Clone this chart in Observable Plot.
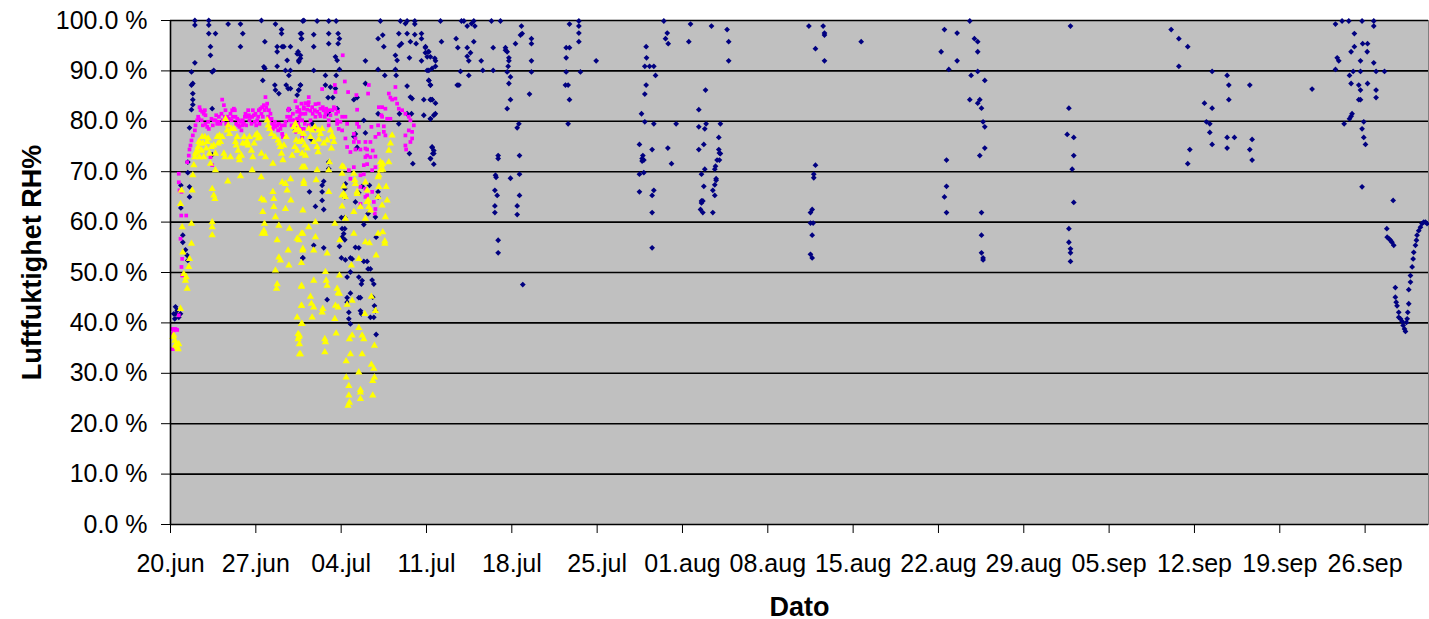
<!DOCTYPE html>
<html><head><meta charset="utf-8">
<script src="https://cdn.jsdelivr.net/npm/d3@7"></script>
<script src="https://cdn.jsdelivr.net/npm/@observablehq/plot@0.6"></script>
<style>body{margin:0;background:#fff;} svg{display:block}</style>
</head><body><div id="chart"></div>
<script>
// Day offsets from 20 June, relative humidity in %
const startYear = 2007;
const domainDays = 103.2;
const tickLabels = ["20.jun","27.jun","04.jul","11.jul","18.jul","25.jul","01.aug","08.aug","15.aug","22.aug","29.aug","05.sep","12.sep","19.sep","26.sep"];
const monthIndex = {jun:5, jul:6, aug:7, sep:8};
const yTicks = [0,10,20,30,40,50,60,70,80,90,100];

const navy = [
[2.0,100],[2.0,99.1],[3.14,100],[3.14,99.1],[3.14,97.4],[3.69,97.4],[4.73,99.3],[5.74,99.3],[5.93,97.4],[3.28,94.8],[3.28,93.1],[5.74,94.8],[2.0,91.6],[1.72,89.8],[3.55,90.1],[3.42,89.8],[1.83,87.5],[1.72,87.2],[1.83,85.5],[1.83,84.3],[1.83,83.3],[1.72,82.3],[1.56,78.7],[1.42,71.9],[1.42,69.8],[1.56,67.0],[1.56,65.0],[0.85,67.3],[0.85,62.8],[1.01,57.4],[1.01,56.0],[1.23,54.5],[1.37,53.4],[1.42,52.4],[0.41,43.2],[0.41,41.8],[0.68,41.1],[0.82,41.8],[0.27,41.8],[0.55,42.5],[0.35,40.8],
[7.46,100],[7.74,95.8],[7.57,88.1],[7.66,90.8],[7.74,90.5],[8.61,99.3],[9.11,98.2],[9.11,97.4],[8.75,94.8],[8.75,93.8],[9.16,94.8],[9.3,94.8],[9.84,94.8],[8.75,90.9],[9.43,90.1],[9.57,92.1],[9.84,90.1],[9.71,89.1],[10.39,93.4],[10.53,91.8],[10.66,92.5],[10.75,97.4],[10.75,96.4],[10.94,100],[8.56,87.2],[8.61,86.2],[8.89,85.5],[9.49,87.2],[9.65,86.5],[9.84,86.5],[10.66,87.2],[10.53,86.2],[9.71,82.3],[3.42,82.5],[3.42,73.4],[10.86,52.9],
[10.85,99.9],[12.03,99.9],[12.98,99.9],[13.59,99.9],[17.22,99.9],[18.86,99.9],[19.27,99.4],[19.41,99.9],[20.04,99.9],[20.04,99.3],[10.66,97.4],[11.75,97.2],[12.98,97.4],[13.75,97.4],[13.86,96.4],[10.74,96.4],[12.98,95.4],[13.75,95.4],[11.75,94.8],[17.03,96.4],[17.41,97.1],[18.73,97.4],[19.41,97.4],[20.04,97.2],[20.59,97.4],[20.59,96.4],[17.5,94.8],[19.68,95.8],[20.15,95.4],[18.95,95.4],[18.78,95.0],[20.91,94.6],[20.91,93.6],[21.19,93.8],[21.32,92.8],[10.47,93.8],[10.66,93.1],[10.52,92.1],[13.53,92.8],[13.67,92.1],[13.86,90.3],[15.99,92.0],[18.45,93.1],[18.59,92.1],[19.6,92.6],[20.59,92.0],[21.05,90.1],[21.46,90.5],[21.68,92.5],[11.75,90.1],[17.03,90.3],[18.45,90.3],[12.71,89.1],[13.59,89.1],[17.58,89.1],[18.51,89.1],[21.19,88.1],[21.32,87.2],[15.99,87.5],[12.71,87.2],[10.66,87.2],[10.52,86.2],[10.39,85.2],[13.53,86.5],[13.12,86.8],[19.41,87.0],[19.68,84.8],[19.82,84.5],[20.78,84.3],[21.32,84.3],[21.46,84.3],[15.04,84.3],[15.31,84.7],[12.93,84.7],[13.31,84.7],[17.03,81.5],[18.78,81.5],[19.41,81.5],[19.77,81.5],[20.78,81.2],[21.32,80.5],[21.73,81.5],[13.67,82.5],[12.85,81.5],[12.98,81.9],[15.86,80.2],[18.73,79.5],[10.25,78.2],[11.62,79.5],[11.56,76.4],[15.99,77.7],[15.04,77.0],[15.17,77.5],[15.31,74.8],[21.46,74.9],[21.32,72.6],[21.6,73.6],[19.6,73.6],[19.88,71.6],[12.98,71.9],[12.98,70.6],[12.57,68.1],[12.44,67.3],[11.4,66.0],[12.44,66.0],[12.44,64.3],[12.57,62.5],[11.89,63.1],[14.35,67.6],[14.3,66.6],[14.3,65.0],[15.17,64.0],[15.45,65.8],[15.72,67.1],[16.32,67.3],[17.03,66.0],[17.03,65.0],[16.21,61.7],[16.81,61.0],[14.3,60.9],[14.02,60.9],[15.86,59.5],[14.08,58.7],[14.3,58.7],[14.21,57.7],[14.08,57.0],[14.3,56.5],[16.87,57.0],[15.17,55.0],[15.45,54.9],[11.75,55.4],[12.57,54.9],[13.86,55.2],[10.85,52.9],[14.02,52.9],[14.35,52.5],[14.76,52.9],[14.9,52.7],[15.86,52.2],[16.13,52.2],[16.4,50.7],[16.21,50.7],[14.76,50.1],[14.49,49.1],[15.45,49.1],[15.72,48.4],[16.54,48.5],[15.66,47.7],[16.68,47.7],[12.85,44.6],[14.49,45.0],[14.76,45.9],[15.45,45.0],[15.58,45.0],[16.59,45.1],[14.49,44.1],[14.63,42.1],[15.58,42.4],[15.66,41.8],[16.73,43.4],[16.81,42.4],[14.63,40.8],[14.76,39.8],[16.4,41.1],[16.68,41.1],[16.87,37.7],
[22.15,99.9],[23.87,99.9],[24.07,99.9],[24.69,99.4],[24.88,99.9],[24.97,98.9],[24.34,98.9],[26.33,99.9],[27.07,99.9],[28.79,98.9],[28.85,97.4],[28.71,97.1],[29.61,96.4],[29.61,95.4],[28.3,95.4],[33.5,99.9],[33.5,98.9],[33.5,97.5],[33.5,95.8],[32.73,99.3],[22.23,95.8],[23.43,96.4],[23.57,94.6],[24.34,94.6],[24.61,93.6],[24.34,92.9],[24.88,95.8],[24.47,92.0],[25.49,92.0],[25.62,90.1],[23.79,89.9],[24.47,89.1],[26.47,94.6],[26.47,90.1],[27.48,94.6],[27.48,94.1],[27.62,93.8],[27.76,92.6],[27.76,92.0],[27.7,90.9],[27.62,89.8],[27.89,88.8],[27.76,87.5],[27.89,84.3],[27.62,82.5],[29.61,92.0],[29.61,89.8],[29.45,85.4],[32.46,94.6],[32.73,94.6],[32.46,92.6],[32.46,89.8],[32.4,87.2],[32.62,87.2],[32.73,84.3],[32.62,79.5],[33.63,89.8],[34.92,92.0],[20.92,94.8],[21.14,93.8],[21.06,92.8],[21.19,90.1],[21.19,88.1],[21.33,87.2],[21.74,92.0],[21.74,90.9],[21.33,84.3],[21.47,84.3],[21.74,83.6],[21.6,81.2],[21.33,80.5],[23.52,87.2],[23.66,87.2],[28.58,79.5],[28.44,78.7],[21.47,74.8],[21.6,74.2],[21.52,73.6],[21.33,72.6],[21.6,71.5],[26.88,73.2],[26.88,72.6],[28.63,73.2],[26.66,69.3],[26.71,68.9],[27.89,68.7],[28.63,69.5],[26.61,66.3],[26.8,65.3],[28.63,65.3],[26.61,63.2],[26.61,61.9],[28.44,63.2],[28.44,61.5],[26.88,56.4],[26.88,53.9],[28.9,47.6],
[40.47,99.9],[40.75,97.5],[40.61,96.4],[40.83,95.4],[42.66,99.3],[42.52,95.8],[44.38,98.9],[45.66,98.2],[45.79,95.8],[45.79,92.0],[39.02,94.8],[39.05,92.6],[38.91,90.9],[39.3,90.9],[39.65,90.9],[39.79,89.1],[39.02,87.2],[38.91,85.4],[38.64,81.5],[38.91,79.9],[39.65,79.5],[41.48,79.5],[43.89,86.2],[43.34,82.3],[43.34,78.9],[43.83,78.5],[43.94,79.5],[45.11,79.5],[44.98,76.8],[44.98,74.4],[45.03,73.7],[45.11,73.6],[44.84,72.3],[45.03,72.3],[44.71,71.1],[44.65,70.5],[43.75,75.4],[43.34,74.4],[43.83,70.5],[43.56,69.5],[43.75,67.1],[44.76,68.6],[44.76,68.3],[44.65,67.4],[44.49,66.3],[44.65,65.3],[43.56,64.2],[43.67,64.2],[43.56,63.8],[43.48,62.5],[43.67,61.9],[44.49,61.9],[38.47,75.4],[38.75,73.2],[38.69,72.6],[38.69,72.1],[38.83,72.3],[39.51,74.4],[40.8,74.7],[41.1,71.6],[38.83,69.8],[38.47,69.5],[38.47,66.0],[39.65,66.3],[39.51,65.3],[39.51,61.9],[39.51,54.9],
[52.37,98.9],[53.54,98.9],[53.65,97.5],[53.65,97.1],[52.91,94.4],[53.65,92.0],[56.66,95.8],[52.91,71.3],[52.77,69.5],[52.77,68.8],[52.64,62.5],[52.5,61.9],[52.5,59.8],[52.72,59.8],[52.64,57.4],[52.5,53.6],[52.64,52.9],[63.49,98.2],[64.53,97.5],[63.22,93.8],[64.53,92.0],[63.85,90.3],[63.66,72.3],[63.66,67.1],[63.49,65.0],[63.66,61.9],
[65.57,99.9],[65.95,96.4],[66.22,95.8],[66.22,93.8],[66.22,89.9],[65.68,89.1],[66.8,88.1],[65.57,84.3],[66.22,83.6],[66.39,84.3],[66.53,82.6],[66.66,79.9],[66.8,78.9],[66.8,74.7],[66.39,73.2],[66.53,61.9],[66.53,57.4],[66.53,53.9],[66.66,52.9],[66.66,52.5],[73.83,98.9],[73.7,82.6],[73.56,77.4],[74.1,76.8],[74.1,73.2],[73.97,70.5],[74.1,63.9],[73.7,58.7],[73.7,56.0],[73.83,54.7],[73.83,53.9],[73.83,52.2],
[82.09,98.2],[82.72,96.4],[83.45,94.8],[82.72,90.9],[85.45,89.9],[86.68,89.1],[86.82,87.2],[88.54,87.2],[86.82,84.3],[84.82,83.6],[85.45,82.6],[84.98,79.9],[85.26,79.5],[85.26,77.8],[85.45,75.4],[86.68,76.8],[87.28,76.8],[86.68,74.7],[88.73,76.4],[88.54,74.4],[88.73,72.3],[83.62,74.4],[83.45,71.6],
[95.57,99.3],[96.11,99.9],[96.66,99.9],[97.75,99.9],[98.71,99.9],[98.71,98.9],[97.12,97.4],[97.8,95.4],[98.2,95.4],[97.12,94.8],[96.85,93.8],[98.17,93.8],[95.71,92.6],[95.84,92.0],[97.62,92.0],[98.71,91.6],[95.57,90.3],[97.02,89.9],[97.62,89.9],[98.9,89.9],[99.59,89.9],[96.72,89.1],[96.85,87.5],[97.48,87.2],[98.2,87.5],[93.65,86.4],[97.62,86.2],[97.48,84.3],[97.62,84.3],[98.9,86.2],[98.9,84.7],[96.93,81.5],[96.85,81.0],[96.72,80.5],[96.28,79.5],[97.89,79.9],[97.75,78.5],[97.89,76.8],[98.03,75.4],[97.75,67.0],[100.3,64.3],[99.78,58.7],[99.81,57.0],[99.95,56.7],[100.08,56.4],[100.2,56.0],[100.35,55.4],[100.48,47.0],[100.48,45.1],[100.55,44.1],[100.62,43.4],[100.76,42.1],[100.76,41.1],[100.9,40.8],[101.04,40.3],[101.12,39.5],[101.23,38.8],[101.31,38.3],[101.39,40.1],[101.45,40.8],[101.5,42.1],[101.58,43.8],[101.58,46.6],[101.72,48.1],[101.72,49.4],[101.86,51.1],[101.94,52.7],[101.99,54.0],[102.13,55.4],[102.21,56.4],[102.26,57.4],[102.4,58.3],[102.54,59.0],[102.67,59.7],[102.81,60.0],[102.95,60.0],[103.08,59.7]
];

const magenta = [
[0.14,38.8],[0.27,38.5],[0.41,38.8],[0.55,38.6],[0.14,37.8],[0.19,34.8],[0.68,41.5],[0.68,69.6],[0.68,67.9],[0.74,66.3],[0.9,66.0],[0.88,61.3],[1.29,61.3],[0.82,56.7],[0.96,52.7],[0.9,51.1],[0.96,49.4],[1.37,71.9],[1.5,73.2],[1.56,74.4],[1.64,75.2],[1.72,76.2],[1.83,77.2],[2.0,78.2],[2.05,79.2],[2.19,80.2],[2.27,80.9],[2.38,82.8],[2.46,82.2],[2.6,81.9],[2.73,81.5],[2.87,81.2],[2.32,80.5],[2.87,79.5],[3.01,78.9],[3.14,78.5],[3.28,72.9],[3.42,71.3],[3.55,80.2],[3.69,80.2],[3.83,79.5],[3.97,80.9],[4.1,79.5],[4.24,84.3],[4.38,83.2],[4.51,82.2],[4.65,80.9],[4.79,80.5],[5.06,82.2],[5.2,82.5],[5.33,80.9],[5.47,80.5],[5.61,80.2],[5.74,79.9],[5.88,79.2],[6.02,79.5],[6.15,81.5],[6.29,80.9],[6.43,81.2],[6.56,80.9],[6.7,80.9],[6.84,81.2],[6.97,81.5],[7.11,80.2],[7.25,82.2],[7.38,82.5],[7.52,82.8],[7.66,83.2],[7.79,84.8],[7.93,83.5],[8.07,82.2],[8.2,81.5],[8.34,79.5],[8.48,79.2],[8.61,78.9],[8.89,79.5],[9.02,78.5],[9.16,77.5],[9.3,76.9],[9.43,79.9],[9.71,82.5],[9.84,80.9],[9.98,80.2],[10.12,79.2],[10.25,78.9],[10.39,81.9],[10.53,82.2],[10.66,80.2],[10.8,76.9],[10.94,82.8],
[2.55,80.2],[2.65,79.2],[2.82,82.2],[3.09,79.9],[3.36,80.5],[3.47,79.2],[3.75,81.2],[3.91,79.9],[4.18,81.5],[4.29,80.2],[4.46,80.9],[4.57,79.5],[4.73,79.2],[4.92,81.5],[5.0,80.2],[5.12,80.9],[5.28,82.2],[5.39,79.5],[5.55,79.2],[5.66,78.9],[5.82,78.2],[5.93,80.2],[6.1,80.9],[6.21,79.2],[6.37,82.2],[6.48,80.2],[6.64,79.5],[6.75,82.2],[6.92,79.9],[7.03,79.2],[7.19,80.9],[7.3,79.5],[7.46,81.5],[7.57,80.9],[7.74,82.2],[7.85,82.8],[8.01,80.9],[8.12,80.2],[8.29,80.5],[8.4,78.5],[8.56,79.9],[8.75,79.2],[8.83,78.2],[9.11,79.2],[9.22,76.9],[9.38,79.2],[9.57,80.9],[9.65,82.2],[9.76,80.2],[9.93,79.2],[10.04,81.5],[10.2,80.2],[10.31,77.9],[10.47,79.5],[10.58,80.9],[10.75,78.5],[10.86,81.5],[11.02,79.5],
[14.13,93.1],[14.3,87.9],[13.48,87.2],[13.53,85.8],[12.44,86.4],[11.34,84.8],[10.25,84.0],[11.07,83.6],[11.34,83.8],[11.62,82.8],[11.89,83.4],[12.16,83.5],[12.3,82.5],[12.57,82.2],[12.85,81.9],[12.98,82.2],[13.26,82.2],[13.53,82.5],[13.75,81.9],[11.21,82.3],[11.48,82.1],[11.07,81.5],[10.66,81.5],[10.39,80.5],[10.8,80.2],[11.48,80.2],[11.89,80.9],[12.3,81.0],[12.71,81.5],[12.98,80.2],[13.67,80.2],[14.08,80.9],[14.35,80.9],[10.52,78.9],[10.93,78.5],[11.34,79.2],[11.75,78.5],[12.98,79.2],[13.67,79.5],[13.8,78.5],[14.08,78.2],[14.49,79.5],[15.31,79.5],[15.45,78.9],[15.04,77.5],[15.17,76.6],[14.35,76.6],[14.49,74.9],[15.04,75.9],[15.45,75.9],[15.99,75.9],[16.4,75.9],[17.09,77.5],[16.81,76.9],[17.5,77.9],[17.63,77.2],[16.48,78.9],[17.03,79.2],[17.5,79.0],[17.36,80.9],[17.77,80.5],[18.04,80.5],[17.63,82.5],[17.36,82.8],[17.09,82.8],[16.21,85.5],[16.27,87.2],[14.57,85.8],[15.25,85.2],[15.31,82.3],[17.91,85.5],[18.04,84.7],[18.18,84.3],[18.45,84.5],[18.59,83.5],[18.73,82.5],[19.0,82.2],[19.27,81.5],[19.55,80.9],[19.68,80.2],[19.96,79.2],[19.27,77.2],[19.55,78.2],[19.82,77.9],[19.27,75.2],[19.33,74.4],[19.82,76.6],[19.68,75.9],[18.45,86.8],[17.3,81.2],[14.76,73.9],[15.17,74.4],[15.58,74.4],[15.99,74.6],[16.13,74.4],[16.59,74.2],[16.81,73.0],[16.13,73.2],[15.99,72.9],[16.4,72.9],[15.86,71.3],[15.04,70.9],[14.63,70.3],[14.76,68.6],[15.58,69.3],[15.86,69.5],[16.54,70.3],[16.81,70.9],[16.13,71.5],[15.58,67.0],[15.99,66.6],[16.54,66.0],[16.13,65.3],[15.58,63.6],[15.99,65.0],[16.68,64.0],[16.76,61.7],[16.81,62.6],
[10.39,82.8],[10.58,82.2],[10.74,83.5],[10.93,82.5],[11.29,83.2],[11.67,81.5],[11.84,82.2],[12.03,81.9],[12.22,81.5],[12.49,82.8],[12.66,80.9],[12.77,82.5],[13.12,81.2],[13.4,82.8],[13.59,81.5],[13.94,79.9]
];

const yellow = [
[0.27,37.5],[0.36,36.5],[0.47,35.8],[0.55,35.2],[0.63,34.8],[0.41,35.5],[0.68,35.8],[0.19,37.2],[0.82,42.8],
[0.82,63.6],[0.9,66.3],[0.96,59.0],[1.01,54.0],[1.09,49.7],[1.23,48.4],[1.37,46.8],[1.29,49.1],[1.5,51.1],[1.56,52.7],[1.72,59.7],[1.72,55.7],[1.78,66.3],[1.83,69.3],[1.91,71.3],[2.0,72.9],[2.11,73.9],[2.27,74.9],[2.46,75.6],[2.6,76.9],
[2.05,73.6],[2.19,74.2],[2.32,75.9],[2.38,72.9],[2.55,74.2],[2.65,75.6],[2.73,72.9],[2.82,76.9],[2.93,74.6],[3.01,75.9],[3.09,76.6],[3.2,73.6],[3.28,71.6],[3.36,74.9],[3.55,75.2],[3.69,73.6],[3.83,76.9],[3.91,75.6],[4.02,77.2],[4.1,75.9],[4.24,76.9],[4.38,73.6],[4.46,72.9],[4.51,80.5],[4.65,78.2],[4.73,79.2],[4.84,77.5],[4.92,72.9],[5.0,78.5],[5.2,78.5],[5.33,75.9],[5.39,75.2],[5.47,76.9],[5.55,74.2],[5.61,72.9],[5.66,72.3],[5.82,73.2],[5.93,75.6],[6.04,76.9],[6.15,75.6],[6.29,75.9],[6.37,75.2],[6.48,76.9],[6.64,74.2],[6.75,72.9],[6.86,75.6],[6.97,77.2],[7.11,77.5],[7.19,76.6],[7.3,76.9],[7.46,73.6],[7.79,72.9],[7.93,80.2],[8.01,79.2],[8.12,78.5],[8.29,77.5],[8.4,71.6],[8.56,76.9],[8.83,76.2],[8.94,75.6],[9.02,74.9],[9.11,73.6],[9.22,72.3],[9.3,75.2],[9.49,76.9],[10.12,78.9],[10.25,78.2],[10.31,76.2],[10.39,74.2],[10.58,75.9],[10.8,73.6],[10.94,70.9],[9.98,73.2],[10.2,74.9],
[3.69,70.3],[4.7,68.1],[5.74,69.1],[6.7,70.3],[7.44,68.9],[3.42,66.6],[3.55,65.3],[3.64,64.6],[3.42,60.0],[3.42,59.0],[3.42,57.4],[7.46,64.6],[7.66,64.3],[7.57,62.0],[7.71,59.7],[7.66,58.3],[7.52,57.7],[7.74,57.7],[8.4,66.0],[8.48,64.6],[8.48,63.0],[8.61,61.0],[8.89,59.3],[8.75,56.4],[8.89,53.0],[9.02,52.4],[8.61,50.4],[8.75,47.7],[8.7,46.8],[9.16,67.9],[9.43,67.6],[9.57,66.3],[9.87,64.3],[9.43,62.6],[9.84,68.5],[9.76,58.7],[9.65,54.4],[9.71,51.4],[10.53,56.4],[10.75,57.7],[10.86,54.7],[10.75,47.4],[10.75,43.4],[10.8,39.8],[10.53,37.2],[10.58,35.8],[10.47,37.8],[10.66,33.8],[10.86,62.3],[10.94,67.6],[10.8,70.9],
[10.25,79.5],[10.47,78.5],[10.93,77.5],[11.34,78.5],[11.62,78.2],[12.16,78.2],[12.44,78.5],[13.26,77.2],[13.31,76.9],[11.02,75.2],[11.21,74.6],[12.03,74.9],[12.11,73.9],[13.2,74.6],[12.16,76.4],[11.07,73.2],[12.03,70.3],[13.04,71.9],[12.98,70.3],[14.08,71.1],[14.21,70.9],[14.08,69.6],[11.02,70.9],[10.93,68.1],[11.95,68.3],[12.98,66.0],[14.08,65.3],[14.21,65.6],[14.35,65.0],[14.08,63.1],[14.21,67.1],[15.04,69.6],[15.12,68.3],[15.17,67.6],[15.31,66.0],[15.31,65.6],[15.58,63.0],[15.99,67.9],[16.13,66.3],[16.13,64.0],[16.27,63.0],[16.4,62.3],[15.99,60.7],[15.04,62.0],[16.21,64.3],[17.03,68.9],[17.22,71.9],[17.3,71.3],[17.41,71.6],[17.22,70.3],[17.09,69.3],[17.41,70.4],[17.91,71.9],[18.04,75.6],[18.18,77.2],[17.91,74.2],[17.69,67.0],[17.09,67.0],[17.03,65.0],[17.36,63.3],[17.77,64.3],[17.63,61.0],[14.35,60.7],[13.48,59.7],[11.89,60.0],[11.34,59.0],[10.39,56.7],[10.85,57.7],[11.89,57.0],[10.85,54.4],[11.75,54.4],[12.85,53.8],[10.74,51.9],[13.89,56.4],[15.04,57.7],[15.99,56.0],[16.32,55.8],[17.03,57.7],[17.41,58.0],[17.58,56.2],[17.58,55.7],[16.87,53.4],[15.45,52.7],[14.84,51.4],[12.71,50.1],[13.86,49.4],[11.75,48.4],[10.74,47.2],[12.77,48.4],[12.85,47.4],[13.67,46.8],[13.75,45.9],[13.86,45.8],[11.48,45.2],[10.74,43.4],[11.56,43.8],[11.75,43.1],[12.49,42.8],[12.44,42.1],[13.53,43.4],[13.75,43.1],[14.49,43.6],[14.9,44.4],[16.48,45.2],[15.94,41.8],[16.81,42.4],[10.39,41.1],[11.62,41.1],[13.48,40.8],[10.74,39.8],[10.58,37.5],[10.47,36.8],[10.58,33.8],[12.66,36.8],[12.71,36.2],[12.66,34.2],[13.59,37.9],[15.45,39.0],[14.9,37.5],[14.68,36.8],[15.72,37.5],[15.86,36.8],[16.73,35.5],[14.76,33.8],[14.41,32.4],[15.72,33.8],[15.45,30.2],[16.48,31.7],[16.68,30.9],[16.73,29.2],[16.59,28.5],[14.41,29.2],[14.63,27.5],[15.58,26.7],[15.58,26.2],[14.63,25.6],[15.58,24.9],[14.68,24.2],[14.57,23.6],[16.59,25.6],
[10.66,77.9],[11.48,76.9],[11.75,75.9],[12.3,77.5],[12.57,75.6],[12.85,76.2],[13.12,78.2],[13.4,75.9],[11.84,78.9],[10.8,76.2]
];

const START = Date.UTC(startYear, 5, 20);
const toDate = d => new Date(START + d * 864e5);
const rows = arr => arr.map(([d, v]) => ({date: toDate(d), rh: v}));
const tickDates = tickLabels.map(s => { const [dd, mm] = s.split("."); return new Date(Date.UTC(startYear, monthIndex[mm], +dd)); });
const labelByTime = new Map(tickDates.map((d, i) => [+d, tickLabels[i]]));

const chart = Plot.plot({
  width: 1429, height: 619,
  marginLeft: 170, marginRight: 1, marginTop: 20, marginBottom: 95,
  style: {fontFamily: "'Liberation Sans', Arial, sans-serif", color: "#000", background: "#fff", overflow: "visible"},
  x: {type: "utc", domain: [toDate(0), toDate(domainDays)]},
  y: {domain: [0, 100]},
  marks: [
    Plot.frame({fill: "#C0C0C0", stroke: "#808080"}),
    Plot.ruleY(yTicks.slice(1), {stroke: "#000", strokeWidth: 1.6}),
    Plot.dot(rows(navy), {x: "date", y: "rh", symbol: "diamond2", r: 2.6, fill: "#000080"}),
    Plot.dot(rows(magenta), {x: "date", y: "rh", symbol: "square", r: 2.1, fill: "#FF00FF"}),
    Plot.dot(rows(yellow), {x: "date", y: "rh", symbol: "triangle", r: 2.7, fill: "#FFFF00"}),
    Plot.ruleY([0], {stroke: "#000", strokeWidth: 1.6}),
    Plot.ruleX([toDate(0)], {stroke: "#000", strokeWidth: 1.6}),
    Plot.axisY({ticks: yTicks, tickFormat: d => d.toFixed(1) + " %", tickSize: 9, tickPadding: 14, fontSize: 25, label: null}),
    Plot.axisX({ticks: tickDates, tickFormat: d => labelByTime.get(+d), tickSize: 9, tickPadding: 21, fontSize: 25, label: null}),
    Plot.text(["Luftfuktighet RH%"], {frameAnchor: "left", textAnchor: "middle", lineAnchor: "middle", rotate: -90, dx: -138, dy: -10, fontSize: 27, fontWeight: "bold"}),
    Plot.text(["Dato"], {frameAnchor: "bottom", textAnchor: "middle", dy: 91, fontSize: 27, fontWeight: "bold"})
  ]
});
document.getElementById("chart").appendChild(chart);
</script>
</body></html>
